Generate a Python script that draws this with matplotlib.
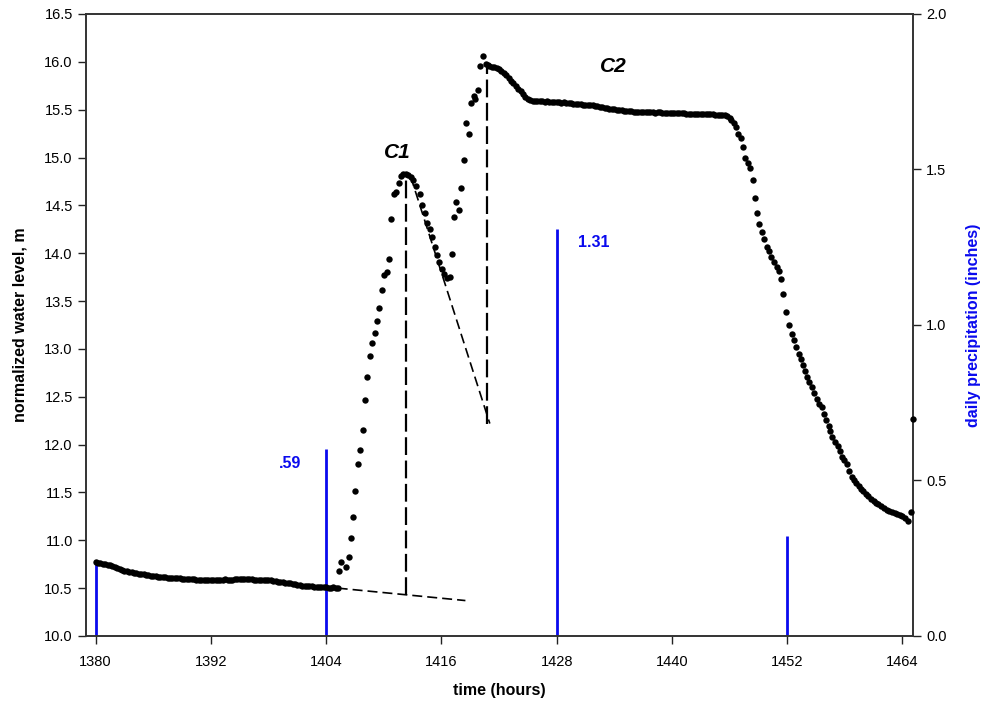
import numpy as np
import matplotlib
matplotlib.use("Agg")
import matplotlib.pyplot as plt

plt.rcParams['font.family'] = ['Liberation Sans', 'DejaVu Sans']

# ---------------- data ----------------
# baseline, 15-minute readings starting at hour 1380
base_start = 1380.0
base_level = [
    10.77, 10.76, 10.76, 10.75, 10.75, 10.74, 10.74, 10.73,
    10.72, 10.71, 10.70, 10.69, 10.68, 10.68, 10.67, 10.67,
    10.66, 10.66, 10.65, 10.65, 10.65, 10.64, 10.64, 10.63,
    10.63, 10.63, 10.62, 10.62, 10.62, 10.62, 10.61, 10.61,
    10.61, 10.61, 10.61, 10.61, 10.60, 10.60, 10.60, 10.60,
    10.60, 10.60, 10.59, 10.59, 10.59, 10.59, 10.59, 10.59,
    10.59, 10.59, 10.59, 10.59, 10.59, 10.59, 10.60, 10.59,
    10.59, 10.59, 10.60, 10.60, 10.60, 10.60, 10.60, 10.60,
    10.60, 10.60, 10.59, 10.59, 10.59, 10.59, 10.59, 10.58,
    10.58, 10.58, 10.57, 10.57, 10.56, 10.56, 10.56, 10.55,
    10.55, 10.55, 10.54, 10.54, 10.53, 10.53, 10.52, 10.52,
    10.52, 10.52, 10.52, 10.51, 10.51, 10.51, 10.51, 10.51,
    10.51, 10.50, 10.50, 10.51, 10.50, 10.50,
]

# storm events C1 and C2 (hour, level)
event_time = [
    1405.31, 1405.60, 1406.04, 1406.35, 1406.56, 1406.80, 1407.05, 1407.30,
    1407.50, 1407.80, 1408.05, 1408.30, 1408.60, 1408.80, 1409.06, 1409.30,
    1409.55, 1409.80, 1410.03, 1410.30, 1410.50, 1410.80, 1411.04, 1411.30,
    1411.56, 1411.80, 1412.05, 1412.30, 1412.55, 1412.80, 1413.05, 1413.35,
    1413.75, 1414.00, 1414.30, 1414.50, 1414.80, 1415.07, 1415.30, 1415.55,
    1415.80, 1416.07, 1416.30, 1416.60, 1416.85, 1417.08, 1417.30, 1417.56,
    1417.80, 1418.08, 1418.33, 1418.57, 1418.85, 1419.06, 1419.40, 1419.50,
    1419.85, 1420.06, 1420.35, 1420.60, 1420.80,
]
event_level = [
    10.68, 10.77, 10.72, 10.82, 11.02, 11.24, 11.52, 11.80,
    11.94, 12.15, 12.47, 12.71, 12.93, 13.06, 13.17, 13.29,
    13.43, 13.62, 13.77, 13.80, 13.94, 14.36, 14.62, 14.64,
    14.73, 14.81, 14.83, 14.83, 14.82, 14.80, 14.76, 14.70,
    14.62, 14.50, 14.42, 14.32, 14.25, 14.17, 14.07, 13.98,
    13.91, 13.84, 13.78, 13.74, 13.75, 13.99, 14.38, 14.53,
    14.45, 14.68, 14.97, 15.36, 15.25, 15.57, 15.64, 15.61,
    15.71, 15.96, 16.06, 15.98, 15.97,
]

# C2 decline and plateau, 15-minute readings starting at hour 1421
plateau_start = 1421.0
plateau_level = [
    15.96, 15.95, 15.95, 15.94, 15.92, 15.90, 15.88, 15.86,
    15.83, 15.80, 15.78, 15.75, 15.72, 15.69, 15.66, 15.63,
    15.61, 15.60, 15.59, 15.59, 15.59, 15.59, 15.59, 15.58,
    15.59, 15.58, 15.58, 15.58, 15.58, 15.58, 15.57, 15.58,
    15.57, 15.57, 15.57, 15.56, 15.56, 15.56, 15.56, 15.55,
    15.55, 15.55, 15.55, 15.55, 15.54, 15.54, 15.53, 15.53,
    15.52, 15.52, 15.51, 15.51, 15.51, 15.50, 15.50, 15.50,
    15.49, 15.49, 15.49, 15.49, 15.48, 15.48, 15.48, 15.48,
    15.48, 15.48, 15.48, 15.48, 15.48, 15.47, 15.48, 15.48,
    15.47, 15.47, 15.47, 15.47, 15.47, 15.47, 15.46, 15.46,
    15.46, 15.46, 15.45, 15.45, 15.45, 15.45, 15.45, 15.45,
    15.45, 15.45, 15.45, 15.45, 15.45, 15.45, 15.44, 15.44,
    15.44, 15.44, 15.44, 15.43, 15.41,
]

# final recession (hour, level)
recess_time = [
    1446.20, 1446.45, 1446.70, 1446.90, 1447.15, 1447.35, 1447.60, 1447.90,
    1448.10, 1448.40, 1448.60, 1448.85, 1449.10, 1449.40, 1449.60, 1449.90,
    1450.10, 1450.30, 1450.60, 1450.90, 1451.10, 1451.40, 1451.60, 1451.90,
    1452.15, 1452.50, 1452.70, 1452.90, 1453.20, 1453.40, 1453.65, 1453.85,
    1454.10, 1454.30, 1454.60, 1454.80, 1455.10, 1455.30, 1455.60, 1455.80,
    1456.00, 1456.30, 1456.50, 1456.70, 1457.00, 1457.25, 1457.50, 1457.70,
    1457.95, 1458.20, 1458.45, 1458.70, 1458.95, 1459.20, 1459.45, 1459.70,
    1459.90, 1460.20, 1460.45, 1460.70, 1461.00, 1461.25, 1461.50, 1461.80,
    1462.10, 1462.35, 1462.60, 1462.90, 1463.20, 1463.40, 1463.75, 1464.00,
    1464.30, 1464.60, 1464.90, 1465.10,
]
recess_level = [
    15.39, 15.36, 15.32, 15.25, 15.20, 15.11, 15.00, 14.94,
    14.89, 14.76, 14.58, 14.42, 14.31, 14.22, 14.15, 14.07,
    14.02, 13.96, 13.91, 13.86, 13.81, 13.73, 13.57, 13.39,
    13.25, 13.16, 13.09, 13.02, 12.95, 12.89, 12.83, 12.77,
    12.71, 12.65, 12.60, 12.54, 12.48, 12.42, 12.39, 12.32,
    12.26, 12.19, 12.14, 12.08, 12.03, 11.98, 11.93, 11.87,
    11.84, 11.80, 11.72, 11.66, 11.63, 11.60, 11.57, 11.54,
    11.51, 11.48, 11.46, 11.43, 11.41, 11.39, 11.38, 11.36,
    11.34, 11.32, 11.31, 11.30, 11.29, 11.27, 11.26, 11.25,
    11.23, 11.20, 11.30, 12.27,
]

# daily precipitation (inches)
precip_time = [1380, 1404, 1428, 1452]
precip_value = [0.24, 0.60, 1.31, 0.32]
precip_labels = {1404: ".59", 1428: "1.31"}

# recession construction lines (hour, level)
base_ext_time = [1405.2, 1418.5]
base_ext_level = [10.50, 10.37]
c1_vert_time = [1412.35, 1412.35]
c1_vert_level = [10.43, 14.83]
c1_slope_time = [1412.8, 1421.04]
c1_slope_level = [14.80, 12.22]
c2_vert_time = [1420.76, 1420.76]
c2_vert_level = [12.22, 15.97]

# ---------------- build series ----------------
base_time = base_start + 0.25 * np.arange(len(base_level))
plateau_time = plateau_start + 0.25 * np.arange(len(plateau_level))
all_time = np.concatenate([base_time, event_time, plateau_time, recess_time])
all_level = np.concatenate([base_level, event_level, plateau_level, recess_level])

# ---------------- figure ----------------
fig = plt.figure(figsize=(9.86, 7.06), dpi=100)
ax = fig.add_axes([0.0872, 0.0992, 0.8388, 0.8810])
ax2 = ax.twinx()

blue = '#0a0aee'
# precipitation on right axis
ax2.vlines(precip_time, 0, precip_value, colors=blue, linewidth=2.0, zorder=1)
ax2.set_ylim(0, 2.0)
ax2.set_yticks([0.0, 0.5, 1.0, 1.5, 2.0])
ax2.set_yticklabels(['0.0', '0.5', '1.0', '1.5', '2.0'])
ax2.set_ylabel('daily precipitation (inches)', color=blue, fontsize=11.5,
               fontweight='bold')
ax2.yaxis.set_label_coords(1.064, 0.5)

# put left axis above right one for drawing order
ax.set_zorder(ax2.get_zorder() + 1)
ax.patch.set_visible(False)

ax.plot(all_time, all_level, 'o', color='black', markersize=4.6,
        markeredgewidth=0, clip_on=False, zorder=3)

ax.plot(base_ext_time, base_ext_level, color='black', linewidth=1.2,
        linestyle=(0, (6, 3)))
ax.plot(c1_vert_time, c1_vert_level, color='black', linewidth=1.6,
        linestyle=(0, (8, 2.5)))
ax.plot(c1_slope_time, c1_slope_level, color='black', linewidth=1.2,
        linestyle=(0, (6, 3)))
ax.plot(c2_vert_time, c2_vert_level, color='black', linewidth=1.6,
        linestyle=(0, (8, 2.5)))

ax.text(1411.4, 14.95, 'C1', fontsize=15, fontweight='bold', fontstyle='italic',
        ha='center', va='bottom')
ax.text(1433.9, 15.95, 'C2', fontsize=15, fontweight='bold', fontstyle='italic',
        ha='center', va='center')
for t, v in zip(precip_time, precip_value):
    if t in precip_labels:
        if t == 1404:
            ax2.text(t - 3.8, 0.555, precip_labels[t], color=blue, fontsize=11.5,
                     fontweight='bold', ha='center', va='center')
        else:
            ax2.text(t + 3.9, 1.265, precip_labels[t], color=blue, fontsize=11.5,
                     fontweight='bold', ha='center', va='center')

ax.set_xlim(1379, 1465.1)
ax.set_ylim(10.0, 16.5)
ax.set_xticks(np.arange(1380, 1465, 12))
ax.set_yticks(np.arange(10.0, 16.51, 0.5))
ax.set_yticklabels([f'{v:.1f}' for v in np.arange(10.0, 16.51, 0.5)])
ax.set_xlabel('time (hours)', fontsize=11.5, fontweight='bold', labelpad=10)
ax.set_ylabel('normalized water level, m', fontsize=11.5, fontweight='bold', labelpad=12)

for a in (ax, ax2):
    a.tick_params(direction='out', length=6, width=1.0, labelsize=10.5,
                  colors='#222222', labelcolor='black')
    for s in a.spines.values():
        s.set_color('#333333')
        s.set_linewidth(1.2)
ax.tick_params(axis='x', pad=8)

fig.savefig('out.png', dpi=100)
